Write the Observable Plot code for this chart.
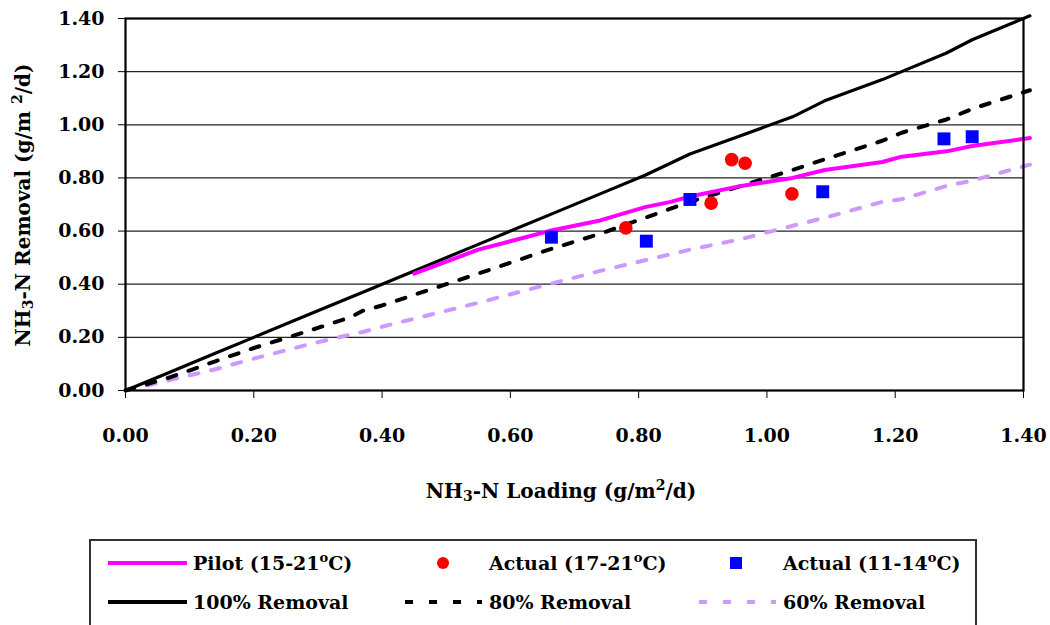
<!DOCTYPE html>
<html><head><meta charset="utf-8">
<script src="https://cdn.jsdelivr.net/npm/d3@7"></script>
<script src="https://cdn.jsdelivr.net/npm/@observablehq/plot@0.6"></script>
<style>
body{margin:0;background:#fff;overflow:hidden;width:1050px;height:625px;}
#chart{position:absolute;left:0;top:0}
#legend{position:absolute;left:89px;top:539px;}
text{font-family:"DejaVu Serif",serif;font-weight:bold;}
</style></head><body><div id="chart"></div><div id="legend"></div>
<script>
// ---- data ----
const xTicks = [0, 0.2, 0.4, 0.6, 0.8, 1.0, 1.2, 1.4];
const yTicks = [0, 0.2, 0.4, 0.6, 0.8, 1.0, 1.2, 1.4];

const refLoading = [0, 0.07, 0.14, 0.20, 0.28, 0.35, 0.37, 0.40, 0.45, 0.55, 0.66, 0.74, 0.81, 0.88, 0.96, 1.04, 1.09, 1.18, 1.21, 1.28, 1.32, 1.41];
const removal100 = [0, 0.07, 0.14, 0.20, 0.28, 0.35, 0.37, 0.40, 0.45, 0.55, 0.66, 0.74, 0.81, 0.89, 0.96, 1.03, 1.09, 1.17, 1.20, 1.27, 1.32, 1.41];
const removal80  = [0, 0.05, 0.11, 0.16, 0.22, 0.275, 0.30, 0.32, 0.36, 0.44, 0.53, 0.59, 0.65, 0.71, 0.77, 0.83, 0.87, 0.94, 0.97, 1.02, 1.06, 1.13];
const removal60  = [0, 0.04, 0.08, 0.12, 0.17, 0.21, 0.22, 0.24, 0.27, 0.33, 0.40, 0.45, 0.49, 0.53, 0.57, 0.62, 0.65, 0.71, 0.72, 0.77, 0.79, 0.85];

const pilotLoading = [0.45, 0.55, 0.66, 0.74, 0.81, 0.85, 0.88, 0.96, 1.04, 1.09, 1.18, 1.21, 1.28, 1.32, 1.41];
const pilotRemoval = [0.44, 0.53, 0.60, 0.64, 0.69, 0.71, 0.73, 0.77, 0.80, 0.83, 0.86, 0.88, 0.90, 0.92, 0.95];

const warmLoading = [0.780, 0.913, 0.945, 0.966, 1.039];
const warmRemoval = [0.612, 0.705, 0.869, 0.855, 0.740];

const coolLoading = [0.664, 0.812, 0.880, 1.087, 1.276, 1.320];
const coolRemoval = [0.577, 0.562, 0.719, 0.748, 0.947, 0.955];

const seriesNames = ["Pilot (15-21", "Actual (17-21", "Actual (11-14", "100% Removal", "80% Removal", "60% Removal"];

// ---- build tables ----
const ref = refLoading.map((x, i) => ({x, r100: removal100[i], r80: removal80[i], r60: removal60[i]}));
const pilot = pilotLoading.map((x, i) => ({x, y: pilotRemoval[i]}));
const warm = warmLoading.map((x, i) => ({x, y: warmRemoval[i]}));
const cool = coolLoading.map((x, i) => ({x, y: coolRemoval[i]}));

const fmt = d3.format(".2f");
const plot = Plot.plot({
  width: 1050, height: 525,
  marginLeft: 125, marginRight: 27, marginTop: 18, marginBottom: 135,
  x: {domain: [0, 1.4], ticks: xTicks, tickFormat: fmt, label: null, tickSize: 8, tickPadding: 30},
  y: {domain: [0, 1.4], ticks: yTicks, tickFormat: fmt, label: null, tickSize: 7, tickPadding: 14},
  style: {fontFamily: "DejaVu Serif", fontSize: "19px", fontWeight: "bold", color: "black", background: "white", overflow: "visible"},
  marks: [
    Plot.ruleY(yTicks, {stroke: "#222", strokeWidth: 1.2}),
    Plot.line(ref, {x: "x", y: "r60", stroke: "#cc99ff", strokeWidth: 4, strokeDasharray: "9,13", clip: false}),
    Plot.line(ref, {x: "x", y: "r80", stroke: "black", strokeWidth: 4, strokeDasharray: "9,13", clip: false}),
    Plot.line(ref, {x: "x", y: "r100", stroke: "black", strokeWidth: 3.2, clip: false}),
    Plot.line(pilot, {x: "x", y: "y", stroke: "#ff00ff", strokeWidth: 4, clip: false}),
    Plot.dot(warm, {x: "x", y: "y", r: 6.8, fill: "#ff0000", stroke: "none"}),
    Plot.dot(cool, {x: "x", y: "y", r: 7.3, symbol: "square", fill: "#0000ff", stroke: "none"}),
    Plot.frame({stroke: "black", strokeWidth: 2.2})
  ]
});
document.getElementById("chart").appendChild(plot);

// axis titles with sub/superscripts
const svg = d3.select(plot);
const xt = svg.append("text").attr("x", 561).attr("y", 498).attr("text-anchor", "middle")
  .attr("font-size", 20).attr("fill", "black");
xt.append("tspan").text("NH");
xt.append("tspan").attr("font-size", 14).attr("dy", 3).text("3");
xt.append("tspan").attr("dy", -3).text("-N Loading (g/m");
xt.append("tspan").attr("font-size", 14).attr("dy", -8).text("2");
xt.append("tspan").attr("dy", 8).text("/d)");

const yt = svg.append("text").attr("transform", "translate(30,205) rotate(-90)").attr("text-anchor", "middle")
  .attr("font-size", 20).attr("fill", "black");
yt.append("tspan").text("NH");
yt.append("tspan").attr("font-size", 14).attr("dy", 3).text("3");
yt.append("tspan").attr("dy", -3).text("-N Removal (g/m ");
yt.append("tspan").attr("font-size", 14).attr("dy", -8).text("2");
yt.append("tspan").attr("dy", 8).text("/d)");

// ---- legend ----
const lg = d3.select("#legend").append("svg").attr("width", 890).attr("height", 100);
lg.append("rect").attr("x", 1).attr("y", 1).attr("width", 886).attr("height", 110)
  .attr("fill", "white").attr("stroke", "#333").attr("stroke-width", 2);
const r1 = 24, r2 = 63;
function label(x, y, name, deg) {
  const t = lg.append("text").attr("x", x).attr("y", y + 7).attr("font-size", 19).attr("fill", "black");
  t.append("tspan").text(name);
  if (deg) {
    t.append("tspan").attr("font-size", 13).attr("dy", -8).text("o");
    t.append("tspan").attr("dy", 8).text("C)");
  }
}
lg.append("line").attr("x1", 19).attr("x2", 98).attr("y1", r1).attr("y2", r1).attr("stroke", "#ff00ff").attr("stroke-width", 4);
label(104, r1, seriesNames[0], true);
lg.append("circle").attr("cx", 354).attr("cy", r1).attr("r", 6).attr("fill", "#ff0000");
label(400, r1, seriesNames[1], true);
lg.append("rect").attr("x", 641).attr("y", r1 - 6).attr("width", 12).attr("height", 12).attr("fill", "#0000ff");
label(694, r1, seriesNames[2], true);
lg.append("line").attr("x1", 19).attr("x2", 98).attr("y1", r2).attr("y2", r2).attr("stroke", "black").attr("stroke-width", 4);
label(104, r2, seriesNames[3], false);
lg.append("line").attr("x1", 316).attr("x2", 393).attr("y1", r2).attr("y2", r2).attr("stroke", "black").attr("stroke-width", 4).attr("stroke-dasharray", "8,16");
label(400, r2, seriesNames[4], false);
lg.append("line").attr("x1", 610).attr("x2", 687).attr("y1", r2).attr("y2", r2).attr("stroke", "#cc99ff").attr("stroke-width", 4).attr("stroke-dasharray", "8,16");
label(694, r2, seriesNames[5], false);
</script>
</body></html>
